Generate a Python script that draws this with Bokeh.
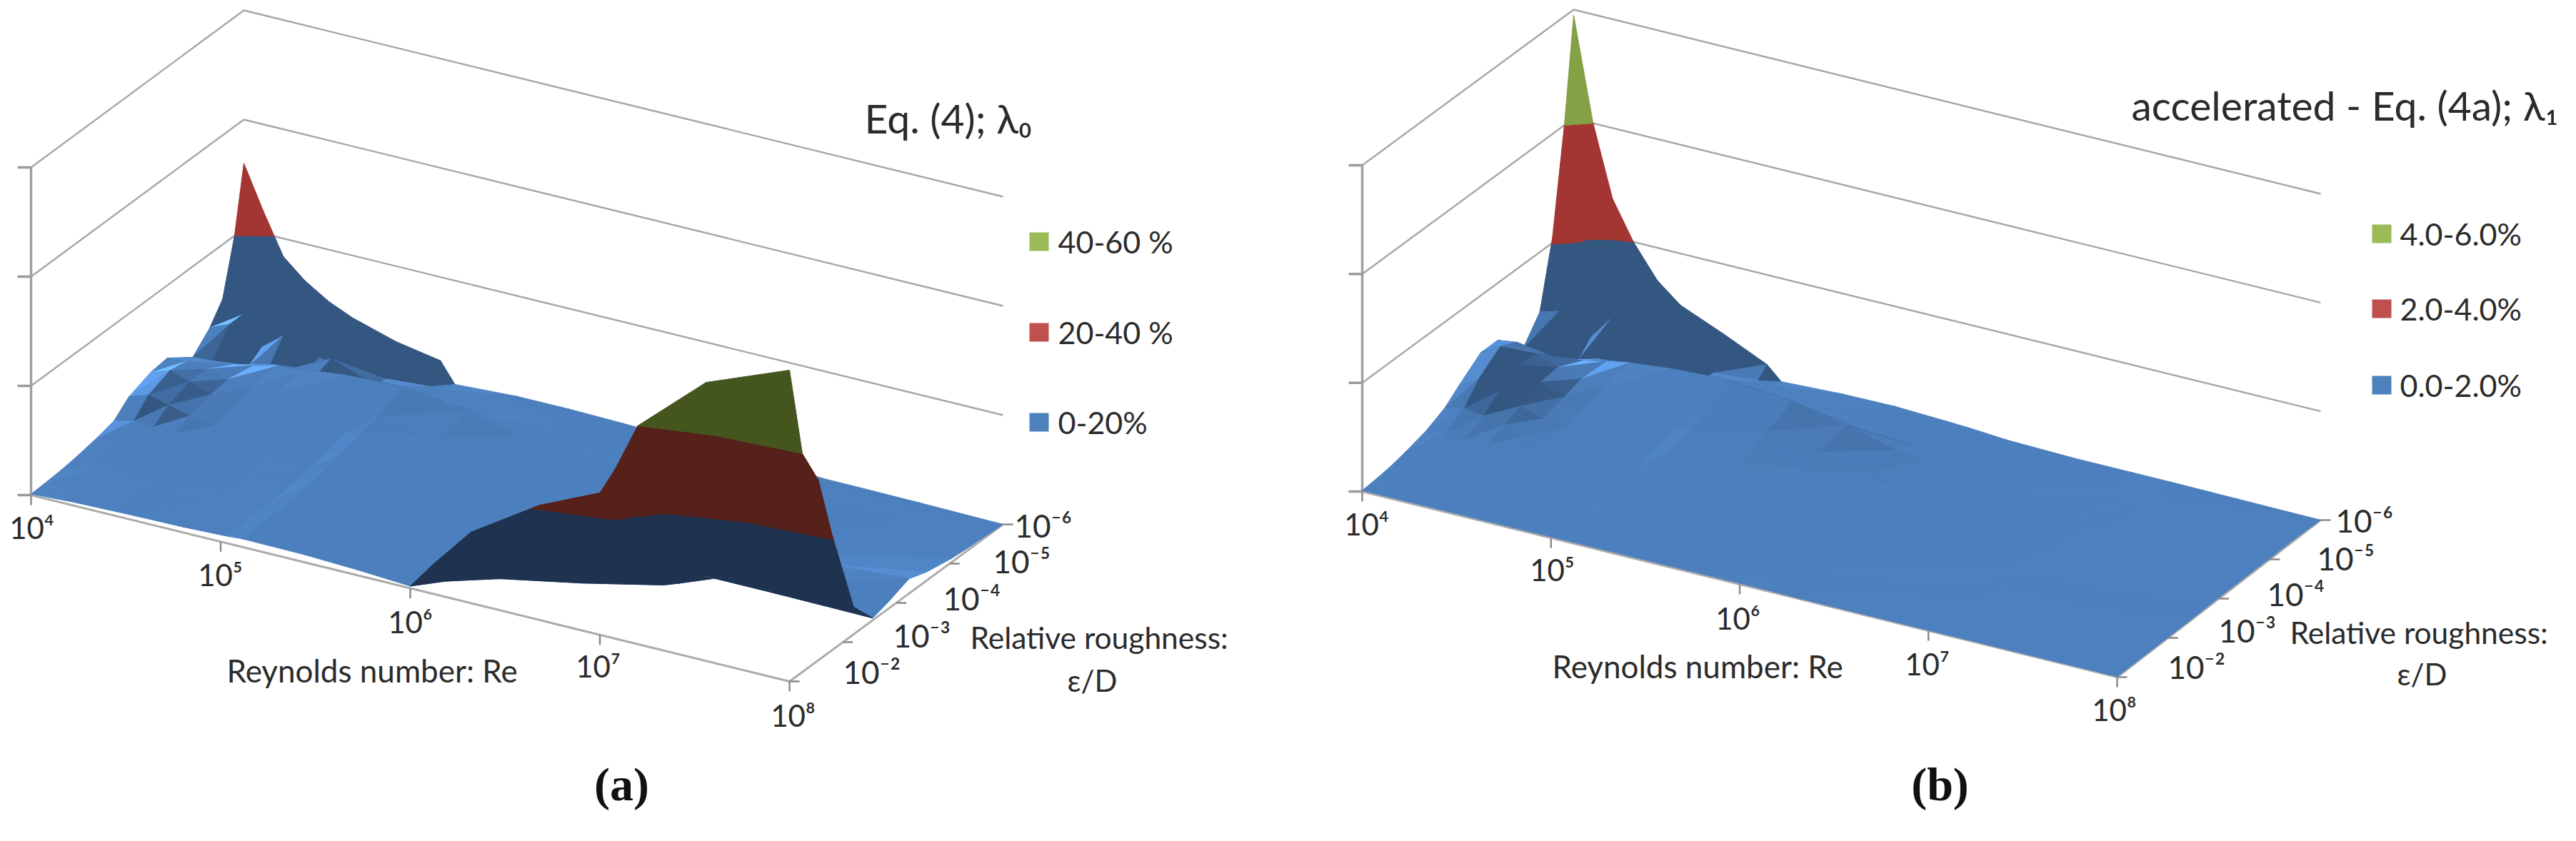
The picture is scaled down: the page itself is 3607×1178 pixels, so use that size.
from bokeh.plotting import figure
from bokeh.layouts import row
from bokeh.embed import file_html
from bokeh.resources import INLINE
from bokeh.core.properties import value

# ---------- data ----------
re_exp = [4, 4.104, 4.208, 4.32, 4.448, 4.572, 4.8, 5.036, 5.112, 5.44, 5.72, 6, 6.12, 6.32, 6.68, 7, 7.08, 7.2, 7.56, 8]
eps_exp = [-6, -5.824, -5.6, -5.36, -5.04, -4.56, -4.24, -3.84, -3.56, -3.2, -2.8, -2.54, -2.24, -2]

# relative error of Eq. (4), %, one row per eps_exp, one column per re_exp
a_m600 = [32, 24, 16.7, 13.3, 10.5, 8.6, 6.2, 4.7, 1.0, 1.6, 1.6, 1.4, 1.3, 1.2, .9, .4, .3, .3, .2, 0]
a_m582 = [20, 11, 5, 2.8, 1.5, .6, .6, 1.2, 1.2, 1.5, 1.5, 1.3, 1.2, 1.1, .9, .4, .3, .3, .2, .1]
a_m560 = [10, 8, 3, 6, 1, 4, 1, 1.2, 1.2, 1.5, 1.5, 1.3, 1.2, 1.1, .9, .5, .4, .4, .3, .3]
a_m536 = [6.5, 8, 1.3, 2.5, 3, 3, 3, 3, 3, 2.5, 1.8, 1.5, 1.4, 1.3, 1.0, .6, .5, .5, .4, .4]
a_m504 = [3.4, 3.6, 3.8, 4.6, 5.6, 6, 7, 7.3, 7.3, 5.5, 3.8, 2.6, 2, 1.4, 1.1, .7, .6, .6, .6, .7]
a_m456 = [6.7, 7, 6.4, 5.5, 5, 4.8, 5, 5.4, 5.6, 4.4, 3.2, 2.2, 1.7, 1.4, 1.1, .8, .8, .8, 1.0, 1.6]
a_m424 = [6.3, 7.6, 6.4, 5, 4.2, 3.8, 3.8, 4.2, 4.6, 3.8, 2.7, 1.8, 1.5, 1.3, 1.0, .8, .8, .9, 1.6, 2.7]
a_m384 = [4.8, 6, 5, 4, 3.2, 2.8, 2.8, 3.2, 3.6, 3.1, 2.3, 1.6, 1.4, 1.2, 1.0, .8, .9, 1.0, 1.2, 1.2]
a_m356 = [2.4, 3.2, 3, 2.8, 2.5, 2.2, 2.2, 2.6, 2.9, 2.6, 2, 1.5, 1.3, 1.1, .9, .8, .9, 1.0, .6, .4]
a_m320 = [1.5, 1.8, 1.7, 1.7, 1.6, 1.6, 1.7, 2.0, 2.3, 2.1, 1.6, 1.2, 1.1, 1, .8, .5, 1.5, 4, 4, 5]
a_m280 = [.8, 1, 1.1, 1.2, 1.2, 1.2, 1.3, 1.6, 1.8, 1.7, 1.4, 1.0, .9, .8, 1, 6, 10, 13, 18, 21]
a_m254 = [.5, .8, .9, 1, 1.1, 1.1, 1.2, 1.5, 1.7, 1.6, 1.3, .9, .7, .6, 7, 13, 17, 20, 29, 33]
a_m224 = [.3, .5, .7, .8, .9, .9, 1.1, 1.4, 1.6, 1.5, 1.1, .7, .6, 3, 13, 17, 21, 28, 36, 40]
a_m200 = [.2, .4, .6, .7, .8, .9, 1, 1.3, 1.5, 1.4, 1.0, .4, 5.4, 13, 21, 26, 31, 40, 51, 57]

# relative error of accelerated Eq. (4a), %
b_m600 = [5.9, 4, 2.7, 2, 1.4, 1.05, .72, .35, .1, .15, .16, .12, .1, .05, .02, .02, .02, .02, .01, 0]
b_m582 = [4, 2.2, 1, .5, .3, .15, .12, .18, .15, .16, .16, .12, .1, .06, .03, .02, .02, .02, .01, .01]
b_m560 = [2.1, 1.7, .45, .9, .15, .7, .15, .18, .15, .16, .15, .12, .1, .06, .03, .02, .02, .02, .02, .02]
b_m536 = [.9, 1.0, .2, .3, .3, .3, .3, .3, .3, .25, .18, .14, .1, .06, .03, .03, .02, .02, .02, .02]
b_m504 = [.45, .42, .42, .5, .6, .68, .76, .8, .8, .7, .5, .28, .2, .1, .04, .03, .03, .02, .02, .02]
b_m456 = [.95, 1, .88, .72, .62, .58, .58, .6, .6, .5, .35, .2, .14, .08, .04, .03, .02, .02, .02, .02]
b_m424 = [.95, 1.15, .9, .68, .52, .45, .42, .44, .48, .4, .26, .14, .1, .06, .04, .03, .02, .02, .02, .02]
b_m384 = [.65, .85, .7, .52, .4, .33, .3, .32, .36, .3, .2, .12, .09, .05, .03, .02, .02, .02, .02, .02]
b_m356 = [.42, .5, .45, .38, .3, .25, .22, .24, .26, .22, .15, .09, .07, .04, .03, .02, .02, .02, .02, .01]
b_m320 = [.25, .3, .27, .24, .2, .17, .15, .15, .16, .13, .1, .07, .05, .03, .02, .02, .01, .01, .01, .01]
b_m280 = [.14, .16, .14, .12, .1, .09, .08, .08, .09, .08, .06, .05, .04, .02, .02, .01, .01, .01, .01, .01]
b_m254 = [.08, .1, .09, .08, .07, .06, .06, .06, .06, .05, .05, .03, .03, .02, .01, .01, .01, .01, .01, .01]
b_m224 = [.04, .05, .05, .05, .05, .04, .04, .04, .04, .03, .03, .02, .02, .01, .01, .01, .01, .01, .01, .01]
b_m200 = [.02, .02, .02, .02, .02, .02, .02, .02, .02, .02, .02, .02, .02, .01, .01, .01, .01, .01, .01, .01]

a_rows = [a_m600, a_m582, a_m560, a_m536, a_m504, a_m456, a_m424, a_m384, a_m356, a_m320, a_m280, a_m254, a_m224, a_m200]
b_rows = [b_m600, b_m582, b_m560, b_m536, b_m504, b_m456, b_m424, b_m384, b_m356, b_m320, b_m280, b_m254, b_m224, b_m200]

a_levels = [0, 20, 40, 60]
b_levels = [0, 2, 4, 6]
a_legend = ["40-60 %", "20-40 %", "0-20%"]
b_legend = ["4.0-6.0%", "2.0-4.0%", "0.0-2.0%"]
re_ticks = [4, 5, 6, 7, 8]
re_labels = ["10⁴", "10⁵", "10⁶", "10⁷", "10⁸"]
eps_ticks = [-6, -5, -4, -3, -2]
eps_labels = ["10⁻⁶", "10⁻⁵", "10⁻⁴", "10⁻³", "10⁻²"]

# ---------- styling ----------
FONT = "Lato"
TOP = [(77, 128, 190), (176, 58, 54), (140, 170, 74)]
UNDER = [(31, 51, 80), (86, 33, 26), (68, 86, 30)]
SHADE_LIM = [(0.68, 1.5), (0.93, 1.05), (0.95, 1.05)]
LEG = ["#4F81BD", "#C0504D", "#9BBB59"]
GRID = "#A6A6A6"
TXT = "#2b2b2b"


def make_proj(fl, fr, br, bl, zpx):
    def proj(re, ep, z):
        s = (re - 4) / 4
        t = (-2 - ep) / 4
        x = (1 - s) * (1 - t) * fl[0] + s * (1 - t) * fr[0] + s * t * br[0] + (1 - s) * t * bl[0]
        y = (1 - s) * (1 - t) * fl[1] + s * (1 - t) * fr[1] + s * t * br[1] + (1 - s) * t * bl[1]
        return x, y - z * zpx
    return proj


def clip(poly, lo, hi):
    def cut(pts, keep, lim):
        out = []
        for i, p in enumerate(pts):
            q = pts[(i + 1) % len(pts)]
            a, b = keep(p[2]), keep(q[2])
            if a:
                out.append(p)
            if a != b:
                f = (lim - p[2]) / (q[2] - p[2])
                out.append(tuple(p[k] + f * (q[k] - p[k]) for k in range(3)))
        return out
    pts = cut(poly, lambda z: z >= lo, lo) if lo is not None else poly
    if pts:
        pts = cut(pts, lambda z: z <= hi, hi) if hi is not None else pts
    return pts


def hexc(rgb, f):
    return "#%02x%02x%02x" % tuple(min(255, max(0, int(c * f))) for c in rgb)


def surface(p, rows, levels, proj, zpx):
    xs, ys, cols = [], [], []
    for j in range(len(eps_exp) - 1):
        for i in range(len(re_exp) - 1):
            A = (re_exp[i], eps_exp[j + 1], rows[j + 1][i])
            B = (re_exp[i], eps_exp[j], rows[j][i])
            C = (re_exp[i + 1], eps_exp[j], rows[j][i + 1])
            D = (re_exp[i + 1], eps_exp[j + 1], rows[j + 1][i + 1])
            for tri in ((A, B, C), (A, C, D)):
                P = [proj(*v) for v in tri]
                area = (P[1][0] - P[0][0]) * (P[2][1] - P[0][1]) - (P[2][0] - P[0][0]) * (P[1][1] - P[0][1])
                u = [(v[0] - 4) * 265.0 for v in tri]
                w = [(-2 - v[1]) * 125.0 for v in tri]
                h = [v[2] * zpx for v in tri]
                d = (u[1] - u[0]) * (w[2] - w[0]) - (u[2] - u[0]) * (w[1] - w[0])
                ax = ((h[1] - h[0]) * (w[2] - w[0]) - (h[2] - h[0]) * (w[1] - w[0])) / d
                bx = ((u[1] - u[0]) * (h[2] - h[0]) - (u[2] - u[0]) * (h[1] - h[0])) / d
                dot = (-ax * -0.62 + -bx * 0.2 + 0.74) / (1 + ax * ax + bx * bx) ** 0.5
                e = dot / 0.74 - 1
                f0 = 1 + 2 * e * min(1, e / 0.15) if e > 0 else 1 + e * min(1, (e / 0.5) ** 2)
                under = area < 0
                for b in range(3):
                    lo = levels[b] if b else None
                    hi = levels[b + 1] if b < 2 else None
                    pts = clip(list(tri), lo, hi)
                    if len(pts) < 3:
                        continue
                    q = [proj(*v) for v in pts]
                    xs.append([v[0] for v in q])
                    ys.append([v[1] for v in q])
                    f = min(SHADE_LIM[b][1], max(SHADE_LIM[b][0], f0))
                    cols.append(hexc(UNDER[b], 1.0) if under else hexc(TOP[b], f))
    p.patches(xs, ys, fill_color=cols, line_color=cols, line_width=1)


def frame(p, levels, proj):
    for z in levels[1:]:
        a, b, c = proj(4, -2, z), proj(4, -6, z), proj(8, -6, z)
        p.line([a[0], b[0], c[0]], [a[1], b[1], c[1]], line_color=GRID, line_width=2.4)
    a, b = proj(4, -2, levels[0]), proj(4, -2, levels[-1])
    p.line([a[0], b[0]], [a[1], b[1]], line_color="#A0A0A0", line_width=3.5)
    for z in levels:
        q = proj(4, -2, z)
        p.line([q[0] - 19, q[0]], [q[1], q[1]], line_color="#9A9A9A", line_width=3.5)
    pts = [proj(4, -6, 0), proj(4, -2, 0), proj(8, -2, 0), proj(8, -6, 0)]
    p.line([v[0] for v in pts], [v[1] for v in pts], line_color="#ABABAB", line_width=3)
    for r in re_ticks:
        q = proj(r, -2, 0)
        p.line([q[0], q[0]], [q[1], q[1] + 14], line_color="#8A8A8A", line_width=2.5)
    for e in eps_ticks:
        q = proj(8, e, 0)
        p.line([q[0], q[0] + 14], [q[1], q[1]], line_color="#8A8A8A", line_width=2.5)


def label(p, x, y, s, size, align="left", font=FONT, style="normal", color=TXT):
    p.text([x], [y], text=[s], text_font=value(font), text_font_size=f"{size}px",
           text_align=align, text_baseline="middle", text_color=color, text_font_style=style)


def new_fig(x0, x1):
    p = figure(width=int(x1 - x0), height=1162, x_range=(x0, x1), y_range=(1170, 8),
               output_backend="svg", toolbar_location=None, min_border=0)
    p.axis.visible = False
    p.grid.visible = False
    p.outline_line_color = None
    return p


# ---------- panel (a) ----------
pa = new_fig(8, 1800)
proj_a = make_proj((51, 701), (1113, 962), (1412, 742), (349, 481), 153 / 20)
frame(pa, a_levels, proj_a)
surface(pa, a_rows, a_levels, proj_a, 153 / 20)
for tx, ty, s in zip([52, 316, 582, 845, 1118], [746, 812, 878, 940, 1009], re_labels):
    label(pa, tx, ty, s, 42, "center")
for tx, ty, s in zip([1428, 1398, 1328, 1258, 1188], [743, 793, 845, 897, 948], eps_labels):
    label(pa, tx, ty, s, 44)
label(pa, 325, 946, "Reynolds number:  Re", 44)
label(pa, 1366, 900, "Relative roughness:", 42.5)
label(pa, 1537, 960, "ε/D", 42, "center")
label(pa, 1218, 172, "Eq. (4); λ₀", 57)
for ly, s, c in zip([346, 473, 599], a_legend, LEG[::-1]):
    pa.quad(left=[1449], right=[1476], top=[ly - 13], bottom=[ly + 13], fill_color=c, line_color=None)
    label(pa, 1489, ly, s, 43)
label(pa, 878, 1106, "(a)", 66, "center", "Liberation Serif", "bold", "#111111")

# ---------- panel (b) ----------
pb = new_fig(1800, 3599)
proj_b = make_proj((1915, 696), (2972, 956), (3257, 736), (2211, 478), 457 / 6)
frame(pb, b_levels, proj_b)
surface(pb, b_rows, b_levels, proj_b, 457 / 6)
for tx, ty, s in zip([1921, 2181, 2441, 2706, 2968], [741, 805, 873, 937, 1001], re_labels):
    label(pb, tx, ty, s, 42, "center")
for tx, ty, s in zip([3278, 3252, 3182, 3114, 3043], [736, 789, 839, 890, 941], eps_labels):
    label(pb, tx, ty, s, 44)
label(pb, 2181, 940, "Reynolds number:  Re", 44)
label(pb, 3214, 893, "Relative roughness:", 42.5)
label(pb, 3399, 951, "ε/D", 42, "center")
label(pb, 2992, 154, "accelerated - Eq. (4a); λ₁", 57)
for ly, s, c in zip([335, 440, 547], b_legend, LEG[::-1]):
    pb.quad(left=[3329], right=[3356], top=[ly - 13], bottom=[ly + 13], fill_color=c, line_color=None)
    label(pb, 3368, ly, s, 43)
label(pb, 2724, 1106, "(b)", 66, "center", "Liberation Serif", "bold", "#111111")

page = row(pa, pb, spacing=0)
open("out.html", "w").write(file_html(page, INLINE))
